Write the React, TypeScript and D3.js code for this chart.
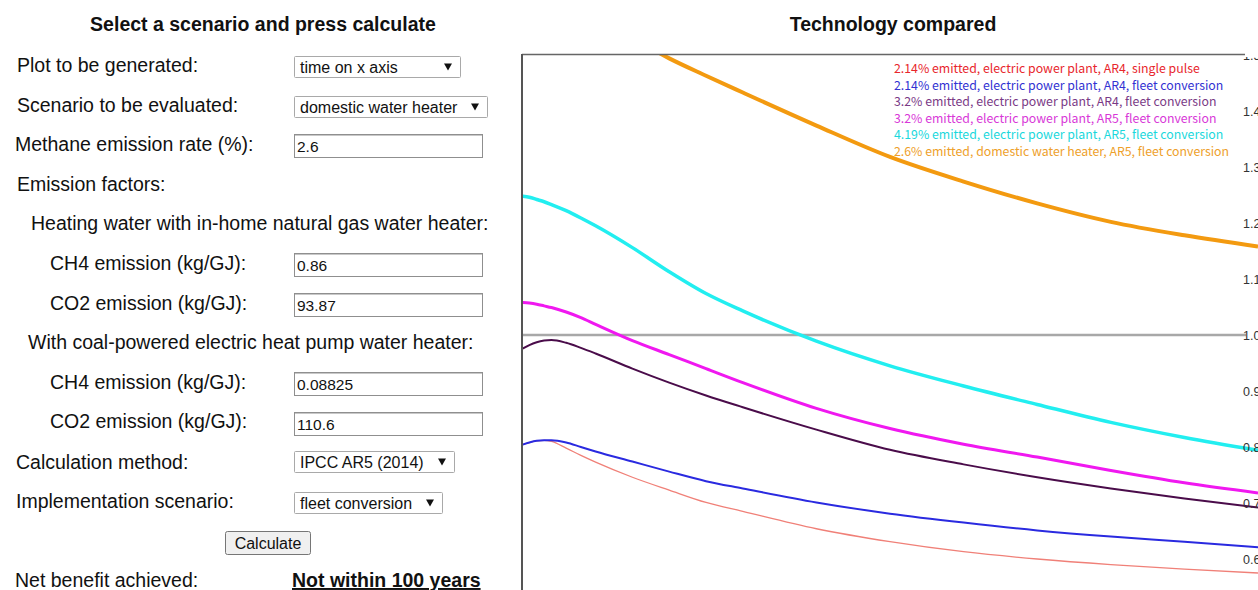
import React from "react";
import * as d3 from "d3";

// ---- chart data ----
const years = [0, 1, 2, 3, 4, 6, 8, 10, 15, 20, 25, 30, 40, 50, 60, 70, 80, 90, 100];

const pulseAR4_214 = [0.804, 0.808, 0.811, 0.812, 0.810, 0.798, 0.785, 0.773, 0.746, 0.723, 0.701, 0.685, 0.654, 0.631, 0.613, 0.600, 0.590, 0.582, 0.575];
const fleetAR4_214 = [0.804, 0.808, 0.811, 0.812, 0.812, 0.808, 0.800, 0.792, 0.774, 0.756, 0.739, 0.726, 0.701, 0.681, 0.665, 0.651, 0.640, 0.631, 0.621];
const fleetAR4_32 = [0.975, 0.982, 0.987, 0.990, 0.991, 0.986, 0.977, 0.967, 0.940, 0.915, 0.892, 0.871, 0.831, 0.795, 0.769, 0.746, 0.726, 0.708, 0.692];
const fleetAR5_32 = [1.058, 1.057, 1.055, 1.052, 1.049, 1.041, 1.031, 1.019, 0.990, 0.965, 0.940, 0.915, 0.869, 0.833, 0.805, 0.782, 0.758, 0.736, 0.718];
const fleetAR5_419 = [1.248, 1.246, 1.242, 1.238, 1.233, 1.222, 1.209, 1.195, 1.156, 1.113, 1.074, 1.043, 0.989, 0.945, 0.909, 0.876, 0.844, 0.817, 0.794];
const waterHeaterAR5_26 = [1.66, 1.65, 1.64, 1.63, 1.62, 1.60, 1.58, 1.56, 1.53, 1.494, 1.463, 1.433, 1.374, 1.318, 1.274, 1.235, 1.202, 1.178, 1.158];

const legendLabels = [
  "2.14% emitted, electric power plant, AR4, single pulse",
  "2.14% emitted, electric power plant, AR4, fleet conversion",
  "3.2% emitted, electric power plant, AR4, fleet conversion",
  "3.2% emitted, electric power plant, AR5, fleet conversion",
  "4.19% emitted, electric power plant, AR5, fleet conversion",
  "2.6% emitted, domestic water heater, AR5, fleet conversion",
];

const yTicks = [1.5, 1.4, 1.3, 1.2, 1.1, 1.0, 0.9, 0.8, 0.7, 0.6];

const seriesList = [pulseAR4_214, fleetAR4_214, fleetAR4_32, fleetAR5_32, fleetAR5_419, waterHeaterAR5_26];
const lineColors = ["#f08078", "#2a2ae0", "#4a0c4a", "#f018f0", "#22eef0", "#f39a10"];
const lineWidths = [1.3, 2, 2, 3, 3.5, 4];
const textColors = ["#e8262c", "#3232d2", "#7a3a86", "#d838d8", "#1ad8dc", "#eea02a"];

const FONT = "'Liberation Sans', Arial, sans-serif";

function Select({ x, y, w, h, text }: { x: number; y: number; w: number; h: number; text: string }) {
  return (
    <g>
      <rect x={x + 0.5} y={y + 0.5} width={w} height={h} fill="#fff" stroke="#a9a9a9" strokeWidth={1} rx={1} />
      <text x={x + 6} y={y + h / 2 + 6} fontSize={16} fontFamily={FONT} fill="#111">{text}</text>
      <path d={`M${x + w - 16},${y + h / 2 - 3} l8,0 l-4,7 z`} fill="#111" />
    </g>
  );
}

function Input({ x, y, w, h, text }: { x: number; y: number; w: number; h: number; text: string }) {
  return (
    <g>
      <rect x={x + 0.5} y={y + 0.5} width={w} height={h} fill="#fff" stroke="#8f8f8f" strokeWidth={1} />
      <line x1={x + 1} y1={y + 1.5} x2={x + w} y2={y + 1.5} stroke="#c8c8c8" />
      <text x={x + 3} y={y + h / 2 + 6} fontSize={15.5} fontFamily={FONT} fill="#111">{text}</text>
    </g>
  );
}

export default function App() {
  const x = d3.scaleLinear().domain([0, 100]).range([522, 1258]);
  const y = d3.scaleLinear().domain([0.5, 1.5]).range([615, 55]);
  const line = d3
    .line<number>()
    .x((_, i) => x(years[i]))
    .y((d) => y(d))
    .curve(d3.curveMonotoneX);

  const labelProps = { fontSize: 19.5, fontFamily: FONT, fill: "#111" };

  return (
    <svg width={1258} height={590} style={{ position: "absolute", left: 0, top: 0, background: "#fff" }}>
      <defs>
        <clipPath id="plotClip">
          <rect x={523} y={55} width={760} height={560} />
        </clipPath>
        <clipPath id="tickClip">
          <rect x={1230} y={57} width={40} height={560} />
        </clipPath>
      </defs>

      {/* ---- left form ---- */}
      <text x={263} y={31} textAnchor="middle" fontSize={19.5} fontWeight="bold" fontFamily={FONT} fill="#111">
        Select a scenario and press calculate
      </text>

      <text x={17} y={72} {...labelProps}>Plot to be generated:</text>
      <Select x={294} y={56} w={166} h={21} text="time on x axis" />

      <text x={17} y={112} {...labelProps}>Scenario to be evaluated:</text>
      <Select x={294} y={96} w={193} h={21} text="domestic water heater" />

      <text x={15} y={151} {...labelProps}>Methane emission rate (%):</text>
      <Input x={294} y={134} w={188} h={23} text="2.6" />

      <text x={17} y={191} {...labelProps}>Emission factors:</text>

      <text x={31} y={230} {...labelProps}>Heating water with in-home natural gas water heater:</text>
      <text x={50} y={270} {...labelProps}>CH4 emission (kg/GJ):</text>
      <Input x={294} y={253} w={188} h={23} text="0.86" />
      <text x={50} y={310} {...labelProps}>CO2 emission (kg/GJ):</text>
      <Input x={294} y={293} w={188} h={23} text="93.87" />

      <text x={28} y={349} {...labelProps}>With coal-powered electric heat pump water heater:</text>
      <text x={50} y={389} {...labelProps}>CH4 emission (kg/GJ):</text>
      <Input x={294} y={372} w={188} h={23} text="0.08825" />
      <text x={50} y={428} {...labelProps}>CO2 emission (kg/GJ):</text>
      <Input x={294} y={412} w={188} h={23} text="110.6" />

      <text x={16} y={469} {...labelProps}>Calculation method:</text>
      <Select x={294} y={451} w={160} h={21} text="IPCC AR5 (2014)" />

      <text x={16} y={508} {...labelProps}>Implementation scenario:</text>
      <Select x={294} y={492} w={148} h={21} text="fleet conversion" />

      <rect x={225.5} y={531.5} width={85} height={23} fill="#f0f0f0" stroke="#767676" rx={2} />
      <text x={268} y={549} textAnchor="middle" fontSize={16} fontFamily={FONT} fill="#111">Calculate</text>

      <text x={15} y={587} {...labelProps}>Net benefit achieved:</text>
      <text x={292} y={587} fontSize={19.5} fontWeight="bold" fontFamily={FONT} fill="#111" textDecoration="underline">
        Not within 100 years
      </text>

      {/* ---- chart ---- */}
      <text x={893} y={31} textAnchor="middle" fontSize={19.5} fontWeight="bold" fontFamily={FONT} fill="#111">
        Technology compared
      </text>

      {/* reference line at 1.0 */}
      <line x1={523} x2={1246} y1={y(1)} y2={y(1)} stroke="#a8a8a8" strokeWidth={2.5} />

      <g clipPath="url(#plotClip)">
        {seriesList.map((s, i) => (
          <path key={i} d={line(s) || ""} fill="none" stroke={lineColors[i]} strokeWidth={lineWidths[i]} strokeLinejoin="round" />
        ))}
      </g>

      {/* right axis tick labels */}
      <g clipPath="url(#tickClip)">
        {yTicks.map((t) => (
          <text key={t} x={1243} y={y(t) + 4.5} fontSize={12.5} fontFamily={FONT} fill="#333">{t.toFixed(1)}</text>
        ))}
      </g>

      {/* frame */}
      <line x1={522} x2={1245} y1={54.5} y2={54.5} stroke="#666" strokeWidth={1.5} />
      <line x1={522} x2={522} y1={54} y2={590} stroke="#555" strokeWidth={2} />

      {/* legend */}
      {legendLabels.map((l, i) => (
        <text key={l} x={894} y={73 + i * 16.6} fontSize={12.3} fontFamily="'Noto Sans CJK KR', 'Noto Sans', sans-serif" fill={textColors[i]}>
          {l}
        </text>
      ))}
    </svg>
  );
}
